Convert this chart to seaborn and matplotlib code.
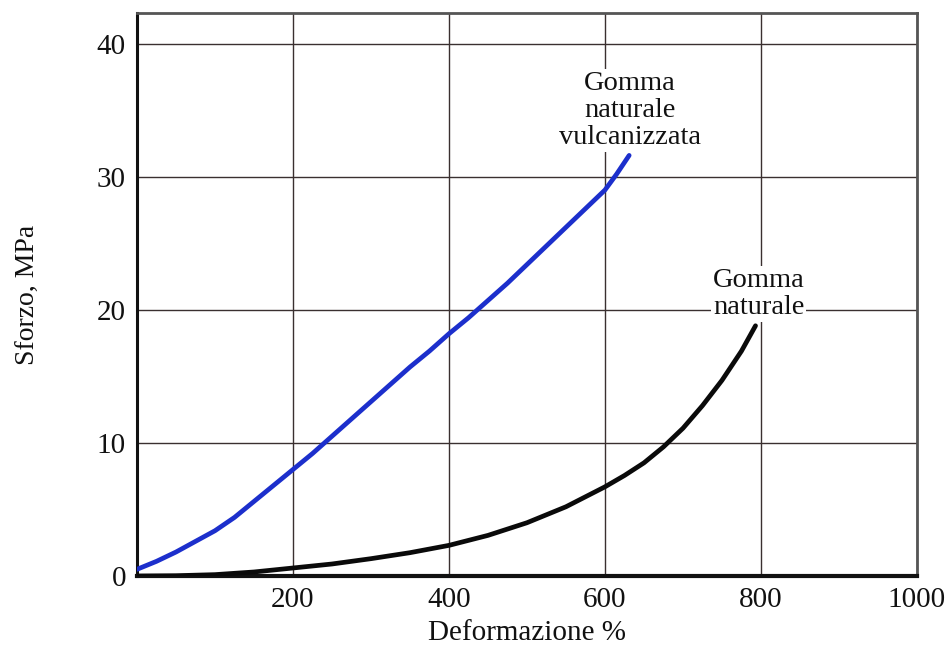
import matplotlib
matplotlib.use("Agg")
import matplotlib.pyplot as plt
import pandas as pd
import seaborn as sns

# Stress-strain readings (strain %, stress MPa)
vulc_strain = [0, 25, 50, 75, 100, 125, 150, 175, 200, 225, 250, 275, 300, 325,
               350, 375, 400, 425, 450, 475, 500, 525, 550, 575, 600, 615, 631]
vulc_stress = [0.5, 1.1, 1.8, 2.6, 3.4, 4.4, 5.6, 6.8, 8.0, 9.2, 10.5, 11.8, 13.1, 14.4,
               15.7, 16.9, 18.2, 19.4, 20.7, 22.0, 23.4, 24.8, 26.2, 27.6, 29.0, 30.2, 31.6]

nat_strain = [0, 50, 100, 150, 200, 250, 300, 350, 400, 450, 500, 550, 600, 625,
              650, 675, 700, 725, 750, 775, 793]
nat_stress = [0.0, 0.02, 0.1, 0.3, 0.6, 0.9, 1.3, 1.75, 2.3, 3.05, 4.0, 5.2, 6.7, 7.55,
              8.5, 9.7, 11.1, 12.8, 14.7, 16.9, 18.8]

x_ticks = [200, 400, 600, 800, 1000]
y_ticks = [0, 10, 20, 30, 40]

sns.set_theme(style="white")
plt.rcParams["font.family"] = ["Liberation Serif", "DejaVu Serif"]

df = pd.concat([
    pd.DataFrame({"strain": vulc_strain, "stress": vulc_stress, "kind": "vulc"}),
    pd.DataFrame({"strain": nat_strain, "stress": nat_stress, "kind": "nat"}),
])

fig = plt.figure(figsize=(9.52, 6.46), dpi=100)
ax = fig.add_axes([0.1439, 0.1084, 0.8193, 0.8715])

ax.set_xlim(0, 1000)
ax.set_ylim(0, 42.3)
ax.set_xticks(x_ticks)
ax.set_yticks(y_ticks)
ax.grid(True, color="#3a3030", linewidth=1.0, zorder=0)
ax.set_axisbelow(True)

sns.lineplot(data=df, x="strain", y="stress", hue="kind", sort=False,
             palette={"vulc": "#1c2fcc", "nat": "#0a0a0a"},
             linewidth=3.4, legend=False, ax=ax, zorder=3)

for side, lw in [("left", 2.2), ("bottom", 3.0), ("top", 2.0), ("right", 2.0)]:
    ax.spines[side].set_visible(True)
    ax.spines[side].set_color("#111111" if side in ("left", "bottom") else "#555555")
    ax.spines[side].set_linewidth(lw)

ax.tick_params(axis="both", length=0, labelsize=21, colors="#111111")
ax.tick_params(axis="y", pad=8)
ax.tick_params(axis="x", pad=8)

ax.set_xlabel("Deformazione %", fontsize=21, labelpad=5, color="#111111")
ax.set_ylabel("Sforzo, MPa", fontsize=20, labelpad=40, color="#111111")

bbox = dict(facecolor="white", edgecolor="none", pad=1.5)
ax.text(632, 35.0, "Gomma\nnaturale\nvulcanizzata", ha="center", va="center",
        fontsize=20.5, linespacing=1.1, color="#111111", bbox=bbox, zorder=4)
ax.text(797, 21.2, "Gomma\nnaturale", ha="center", va="center",
        fontsize=20.5, linespacing=1.1, color="#111111", bbox=bbox, zorder=4)

fig.savefig("out.png", dpi=100)
